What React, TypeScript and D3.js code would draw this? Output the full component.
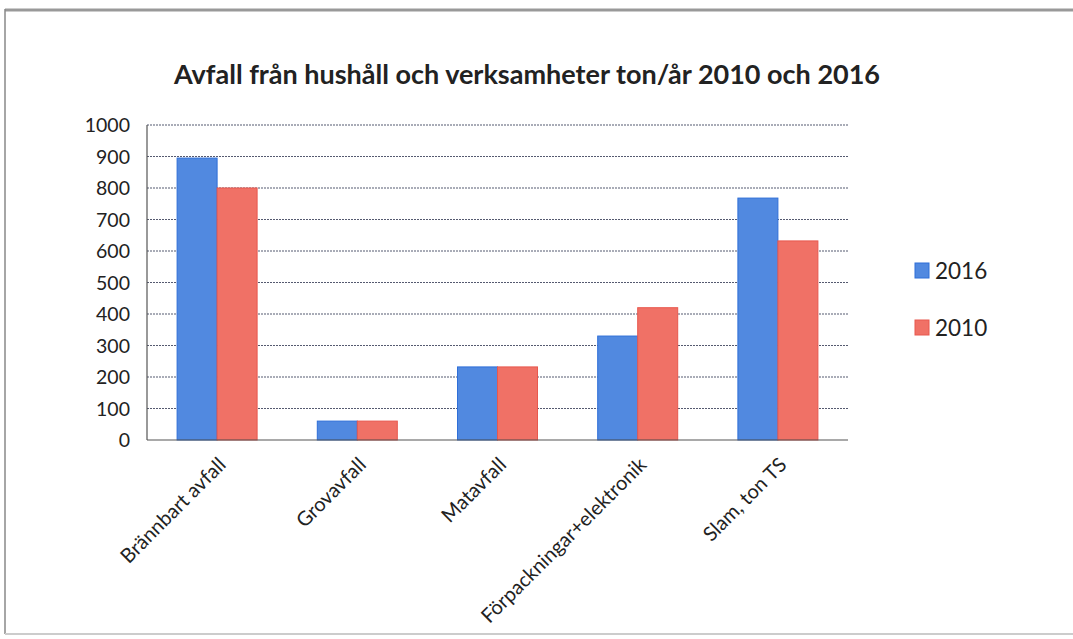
import React from "react";
import * as d3 from "d3";

const categories = ["Brännbart avfall", "Grovavfall", "Matavfall", "Förpackningar+elektronik", "Slam, ton TS"];
const series2016 = [895, 60, 232, 330, 768];
const series2010 = [800, 60, 232, 420, 632];
const seriesNames = ["2016", "2010"];
const yTicks = [0, 100, 200, 300, 400, 500, 600, 700, 800, 900, 1000];

const W = 1073, H = 639;
const left = 147, right = 848, top = 125, bottom = 440;
const colors = ["#5189e0", "#f07166"];
const strokes = ["#2f6fd8", "#e8584e"];
const font = "Lato, 'Open Sans', sans-serif";

export default function App() {
  const x = d3.scaleBand<string>().domain(categories).range([left, right]).paddingInner(0).paddingOuter(0);
  const y = d3.scaleLinear().domain([0, 1000]).range([bottom, top]);
  const inner = d3.scaleBand<string>().domain(seriesNames).range([0, 80]);
  const data = [series2016, series2010];
  const bw = x.bandwidth();
  return (
    <svg width={W} height={H} style={{ position: "absolute", left: 0, top: 0, background: "#fff" }}>
      <rect x={0} y={0} width={W} height={H} fill="#fff" />
      <line x1={5} y1={10} x2={W} y2={10} stroke="#999" strokeWidth={3} />
      <line x1={5} y1={9} x2={5} y2={634} stroke="#888" strokeWidth={1.5} />
      <line x1={5} y1={634} x2={W} y2={634} stroke="#ccc" strokeWidth={2} />
      <text x={527} y={84} textAnchor="middle" fontFamily={font} fontWeight="bold" fontSize={27} fill="#222">
        Avfall från hushåll och verksamheter ton/år 2010 och 2016
      </text>
      {yTicks.map((t) => (
        <g key={t}>
          {t > 0 && (
            <line x1={left} x2={right} y1={y(t)} y2={y(t)} stroke="#555a70" strokeWidth={1.2} strokeDasharray="2 1" />
          )}
          <text x={130} y={y(t) + 7} textAnchor="end" fontFamily={font} fontSize={19.5} fill="#222">
            {t}
          </text>
        </g>
      ))}
      <line x1={left} x2={left} y1={top} y2={bottom} stroke="#555" strokeWidth={1.2} />
      {categories.map((c, i) => (
        <g key={c}>
          {seriesNames.map((s, j) => {
            const bx = (x(c) as number) + (bw - 80) / 2 + (inner(s) as number);
            return (
              <rect
                key={s}
                x={bx}
                y={y(data[j][i])}
                width={inner.bandwidth()}
                height={bottom - y(data[j][i])}
                fill={colors[j]}
                stroke={strokes[j]}
                strokeWidth={1}
              />
            );
          })}
          <text
            transform={`translate(${(x(c) as number) + bw / 2 + 10},${bottom + 26}) rotate(-45)`}
            textAnchor="end"
            fontFamily={font}
            fontSize={20}
            fill="#222"
          >
            {c}
          </text>
        </g>
      ))}
      <line x1={left} x2={right} y1={bottom} y2={bottom} stroke="#555" strokeWidth={1.2} />
      {seriesNames.map((s, j) => (
        <g key={s} transform={`translate(915,${263 + j * 57})`}>
          <rect x={0} y={0} width={14} height={15} fill={colors[j]} stroke={strokes[j]} strokeWidth={1} />
          <text x={20} y={15.5} fontFamily={font} fontSize={22.5} fill="#222">
            {s}
          </text>
        </g>
      ))}
    </svg>
  );
}
